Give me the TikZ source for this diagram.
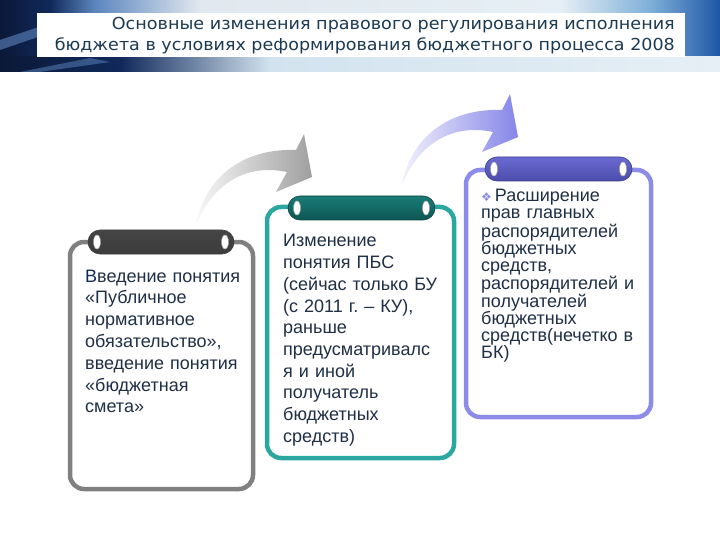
\documentclass[tikz,border=0pt]{standalone}
\usepackage{fontspec}
\setmainfont{Liberation Sans}
\newfontfamily\titlefont{DejaVu Sans}
\newfontfamily\symfont{DejaVu Sans}
\usepackage{graphicx}
\frenchspacing
\definecolor{navyA}{HTML}{0B1838}
\definecolor{navyB}{HTML}{10295A}
\definecolor{blueA}{HTML}{5D86BF}
\definecolor{lightA}{HTML}{E1E8EF}
\definecolor{lightB}{HTML}{E6EFF5}
\definecolor{blueB}{HTML}{7FB0D8}
\definecolor{blueC}{HTML}{1D56A6}
\definecolor{lightC}{HTML}{D2E3EF}
\definecolor{titlecol}{HTML}{1B3A52}
\definecolor{textcol}{HTML}{1F2F45}
\definecolor{grayframe}{HTML}{808080}
\definecolor{tealframe}{HTML}{2CA7A0}
\definecolor{purpframe}{HTML}{8C8CE8}
\definecolor{gcapT}{HTML}{454545}
\definecolor{gcapM}{HTML}{8E8E8E}
\definecolor{gcapB}{HTML}{3C3C3C}
\definecolor{tcapT}{HTML}{1A7C78}
\definecolor{tcapM}{HTML}{34AEA8}
\definecolor{tcapB}{HTML}{0E5653}
\definecolor{pcapT}{HTML}{6A6AD2}
\definecolor{pcapM}{HTML}{A0A0F2}
\definecolor{pcapB}{HTML}{4C4CAA}
\tikzset{
  frame/.style={line width=4.5pt, rounded corners=14pt, fill=white},
  capsule/.style={rounded corners=12pt, line width=0.6pt},
  ring/.style={fill=white, draw=black!35, line width=0.5pt},
  cardtext/.style={anchor=base west, inner sep=0pt, text width=175pt, align=left, text=textcol},
  titleline/.style={anchor=base east, inner sep=0pt, text=titlecol, font=\titlefont\fontsize{16.5}{20}\selectfont}
}
\begin{document}
\begin{tikzpicture}[x=1pt,y=-1pt]
\useasboundingbox (0,0) rectangle (720,540);
\fill[white] (0,0) rectangle (720,540);
% header band
\shade[left color=navyA, right color=navyB] (0,0) rectangle (50,72);
\shade[left color=navyB, right color=blueA] (50,0) rectangle (95,72);
\shade[left color=blueA, right color=lightA] (95,0) rectangle (200,72);
\shade[left color=lightA, right color=lightB] (200,0) rectangle (560,72);
\shade[left color=lightB, right color=blueB] (560,0) rectangle (650,72);
\shade[left color=blueB, right color=blueC] (650,0) rectangle (720,72);
\shade[left color=navyA, right color=navyB] (0,57) rectangle (120,72);
\shade[left color=navyB, right color=lightC] (120,57) rectangle (270,72);
\shade[left color=lightC, right color=lightB] (270,57) rectangle (720,72);
\fill[blueA, opacity=0.6] (0,40) -- (60,20) -- (70,26) -- (0,50) -- cycle;
\fill[blueA, opacity=0.5] (20,72) -- (90,58) -- (110,62) -- (40,72) -- cycle;
\fill[white] (37,13) rectangle (685,57);
\node[titleline] (t1) at (675,30) {\resizebox{563pt}{\height}{Основные изменения правового регулирования исполнения}};
\node[titleline] (t2) at (675,51) {\resizebox{620pt}{\height}{бюджета в условиях реформирования бюджетного процесса 2008}};

% arrows
\shade[left color=gray!6, right color=gray!75]
  (196,225) .. controls (204,180) and (240,148) .. (296,150) -- (304,134) -- (312,177) -- (276,192) -- (287,172) .. controls (245,163) and (212,185) .. cycle;
\begin{scope}[shift={(206,-40)}]
\shade[left color=purpframe!12, right color=purpframe!95!blue]
  (196,225) .. controls (204,180) and (240,148) .. (296,150) -- (304,134) -- (312,177) -- (276,192) -- (287,172) .. controls (245,163) and (212,185) .. cycle;
\end{scope}

% card 1
\draw[frame, draw=grayframe] (70,242) rectangle (253,489);
\shadedraw[capsule, draw=black!75, top color=gcapT, middle color=gcapM, bottom color=gcapB] (88,230) rectangle (234,254);
\filldraw[ring] (97,242) ellipse [x radius=3.5, y radius=7];
\filldraw[ring] (225,242) ellipse [x radius=3.5, y radius=7];
\node[cardtext, font=\fontsize{18}{21.8}\selectfont] (c1) at (85,282)
 {{\color{navyB}В}ведение понятия\\«Публичное\\нормативное\\обязательство»,\\введение понятия\\«бюджетная\\смета»};

% card 2
\draw[frame, draw=tealframe] (267,207) rectangle (454,458);
\shadedraw[capsule, draw=tcapB!80!black, top color=tcapT, middle color=tcapM, bottom color=tcapB] (288,196) rectangle (435,220);
\filldraw[ring] (297,208) ellipse [x radius=3.5, y radius=7];
\filldraw[ring] (426,208) ellipse [x radius=3.5, y radius=7];
\node[cardtext, font=\fontsize{18}{21.7}\selectfont] (c2) at (283,247)
 {Изменение\\понятия ПБС\\(сейчас только БУ\\(с 2011 г. – КУ),\\раньше\\предусматривалс\\я и иной\\получатель\\бюджетных\\средств)};

% card 3
\draw[frame, draw=purpframe] (466,170) rectangle (651,417);
\shadedraw[capsule, draw=pcapB!80!black, top color=pcapT, middle color=pcapM, bottom color=pcapB] (485,157) rectangle (632,181);
\filldraw[ring] (494,169) ellipse [x radius=3.5, y radius=7];
\filldraw[ring] (623,169) ellipse [x radius=3.5, y radius=7];
\node[cardtext, font=\fontsize{18}{17}\selectfont] (c3) at (481,202)
 {{\symfont\fontsize{12}{12}\selectfont\color{purpframe}❖}\hspace{3pt}Расширение\\прав главных\\распорядителей\\бюджетных\\средств,\\распорядителей и\\получателей\\бюджетных\\средств(нечетко в\\БК)};
\end{tikzpicture}
\end{document}
